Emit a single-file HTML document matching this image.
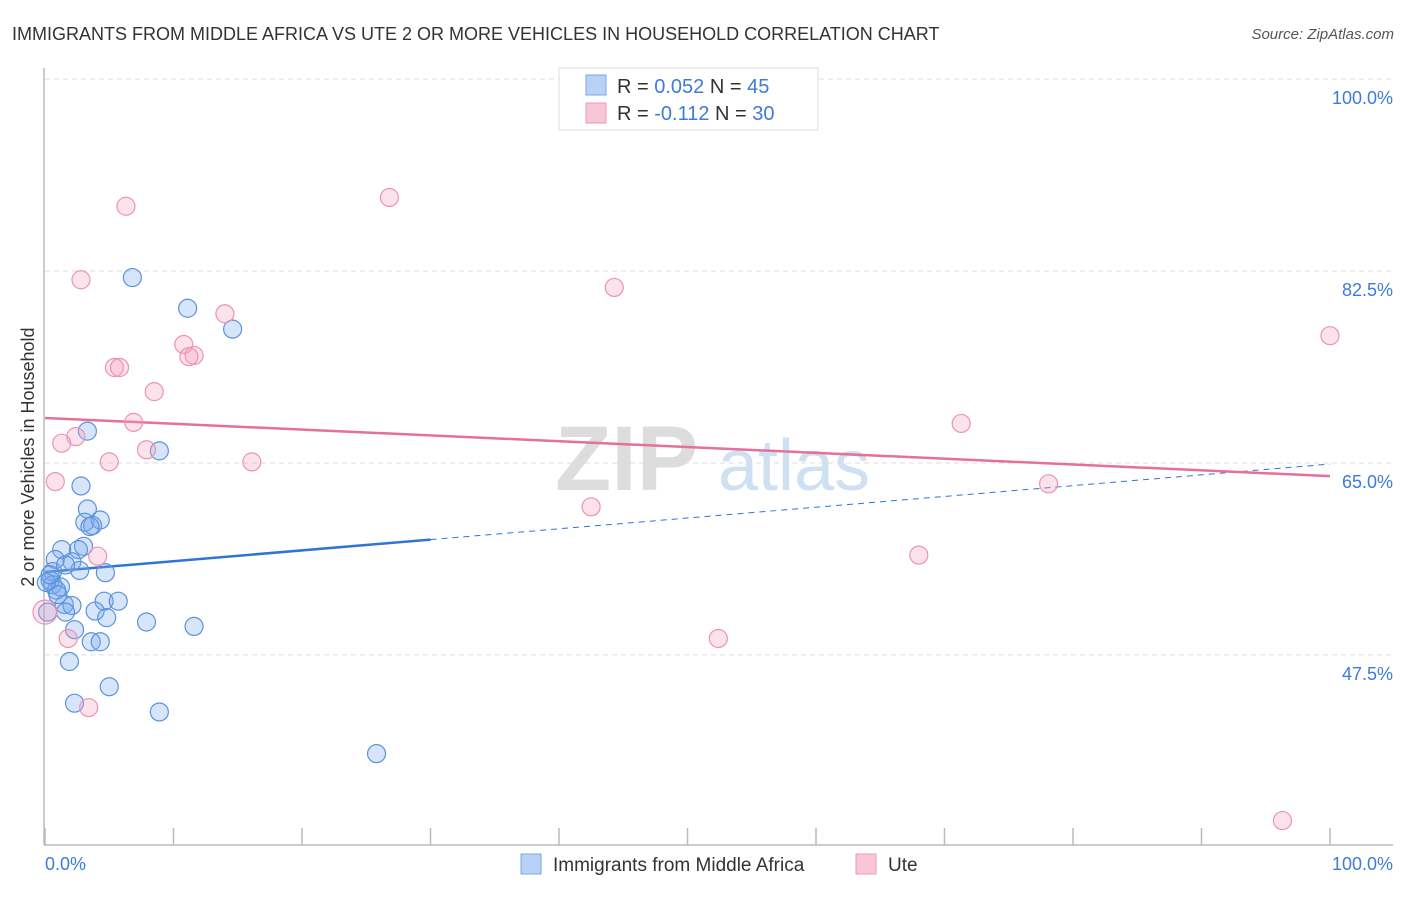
<!DOCTYPE html>
<html><head><meta charset="utf-8"><style>
body{margin:0;background:#fff;font-family:"Liberation Sans",sans-serif;}
svg text{font-family:"Liberation Sans",sans-serif;}
</style></head><body>
<svg id="chart" width="1406" height="892" xmlns="http://www.w3.org/2000/svg">
<text x="12" y="40" font-size="18" fill="#333">IMMIGRANTS FROM MIDDLE AFRICA VS UTE 2 OR MORE VEHICLES IN HOUSEHOLD CORRELATION CHART</text>
<text x="1394" y="39" font-size="15" fill="#555" font-style="italic" text-anchor="end">Source: ZipAtlas.com</text>
<g>
<text x="555" y="490" font-size="92" fill="#ddd" font-family="Liberation Serif" font-weight="bold">ZIP</text>
<text x="718" y="490" font-size="72" fill="#cfe0f3">atlas</text>
</g>
<g id="grid"></g>
<line x1="44" y1="68" x2="44" y2="845" stroke="#bbb" stroke-width="1.5"/>
<line x1="44" y1="845" x2="1393" y2="845" stroke="#bbb" stroke-width="1.5"/>
<g id="xticks"></g>
<text transform="translate(34,457) rotate(-90)" font-size="18" fill="#333" text-anchor="middle">2 or more Vehicles in Household</text>
<text x="45" y="870" font-size="18" fill="#3d7bd8">0.0%</text>
<text x="1393" y="870" font-size="18" fill="#3d7bd8" text-anchor="end">100.0%</text>
<g id="trends"></g>
<g id="points"></g>
<g>
<rect x="559" y="68" width="259" height="62" fill="#fff" stroke="#ddd"/>
<rect x="586" y="75" width="20" height="20" fill="#b7d2f5" stroke="#7aa8e6"/>
<rect x="586" y="103" width="20" height="20" fill="#f9c6d6" stroke="#eb9ab4"/>
<text x="617" y="93" font-size="20" fill="#333">R = <tspan fill="#3d7bd8">0.052</tspan>   N = <tspan fill="#3d7bd8">45</tspan></text>
<text x="617" y="120" font-size="20" fill="#333">R = <tspan fill="#3d7bd8">-0.112</tspan>   N = <tspan fill="#3d7bd8">30</tspan></text>
</g>
<g>
<rect x="521" y="854" width="20" height="20" fill="#b7d2f5" stroke="#7aa8e6"/>
<text x="553" y="871" font-size="19" fill="#333">Immigrants from Middle Africa</text>
<rect x="856" y="854" width="20" height="20" fill="#f9c6d6" stroke="#eb9ab4"/>
<text x="888" y="871" font-size="19" fill="#333">Ute</text>
</g>
</svg>
<script>
const yTicks=[100,82.5,65,47.5];
const yTickLabels=["100.0%","82.5%","65.0%","47.5%"];
const xTicks=[0,10,20,30,40,50,60,70,80,90,100];
const blueX=[6.8,11.1,14.6,3.3,8.9,2.8,3.3,3.1,4.3,3.7,3.5,3.0,2.6,1.3,0.8,2.1,0.6,2.7,4.7,0.4,0.6,1.2,0.9,4.6,5.7,1.5,2.1,1.6,3.9,4.8,0.2,7.9,11.6,2.3,3.6,4.3,1.9,5.0,2.3,8.9,25.8,0.1,0.4,1.6,1.0];
const blueY=[81.9,79.1,77.2,67.9,66.1,62.9,60.8,59.6,59.8,59.3,59.2,57.4,57.1,57.1,56.2,56.0,55.1,55.2,55.0,54.3,53.9,53.7,53.4,52.4,52.4,52.1,52.0,51.4,51.5,50.9,51.4,50.5,50.1,49.8,48.7,48.7,46.9,44.6,43.1,42.3,38.5,54.1,54.8,55.7,53.0];
const pinkX=[6.3,26.8,2.8,44.3,14.0,10.8,11.6,11.2,5.4,5.8,8.5,100,6.9,71.3,1.3,2.4,7.9,5.0,16.1,0.8,78.1,42.5,4.1,68.0,1.8,52.4,3.4,96.3,0,56.6];
const pinkY=[88.4,89.2,81.7,81.0,78.6,75.8,74.8,74.7,73.7,73.7,71.5,76.6,68.7,68.6,66.8,67.4,66.2,65.1,65.1,63.3,63.1,61.0,56.5,56.6,49.0,49.0,42.7,32.4,51.4,99.9];
const blueTrend=[55.06,64.9];
const pinkTrend=[69.1,63.8];
const NS="http://www.w3.org/2000/svg";
const sx=v=>45+v*12.85;
const sy=v=>79+(100-v)*10.97;
function mk(tag,attrs,parent){const e=document.createElementNS(NS,tag);for(const k in attrs)e.setAttribute(k,attrs[k]);document.getElementById(parent).appendChild(e);return e;}
yTicks.forEach((t,i)=>{
 const l=mk('line',{x1:45,x2:1393,y1:sy(t),y2:sy(t),stroke:'#ddd','stroke-dasharray':'5,4'},'grid');
 
 
 const tx=mk('text',{x:1393,y:sy(t)+25,'font-size':18,fill:'#3d7bd8','text-anchor':'end'},'grid');
 tx.textContent=yTickLabels[i];
 
 
});
xTicks.forEach(t=>{
 const l=mk('line',{x1:sx(t),x2:sx(t),y1:828,y2:845,stroke:'#bbb','stroke-width':1.5},'xticks');
 
 
});
// trends
const bx=30;
const byEnd=blueTrend[0]+(blueTrend[1]-blueTrend[0])*bx/100;
let t1=mk('line',{x1:sx(0),y1:sy(blueTrend[0]),x2:sx(bx),y2:sy(byEnd),stroke:'#2f74d6','stroke-width':2.5},'trends');


let t2=mk('line',{x1:sx(bx),y1:sy(byEnd),x2:sx(100),y2:sy(blueTrend[1]),stroke:'#2f74d6','stroke-width':1,'stroke-dasharray':'6,5'},'trends');


let t3=mk('line',{x1:sx(0),y1:sy(pinkTrend[0]),x2:sx(100),y2:sy(pinkTrend[1]),stroke:'#e5709a','stroke-width':2.5},'trends');


blueX.forEach((x,i)=>{
 const c=mk('circle',{cx:sx(x),cy:sy(blueY[i]),r:9,fill:'rgba(120,170,235,0.3)',stroke:'#5b92dc','stroke-width':1.2},'points');
 
 
});
pinkX.forEach((x,i)=>{
 const c=mk('circle',{cx:sx(x),cy:sy(pinkY[i]),r:(x===0?12:9),fill:'rgba(245,160,190,0.3)',stroke:'#eb94b2','stroke-width':1.2},'points');
 
 
});
</script>
</body></html>
